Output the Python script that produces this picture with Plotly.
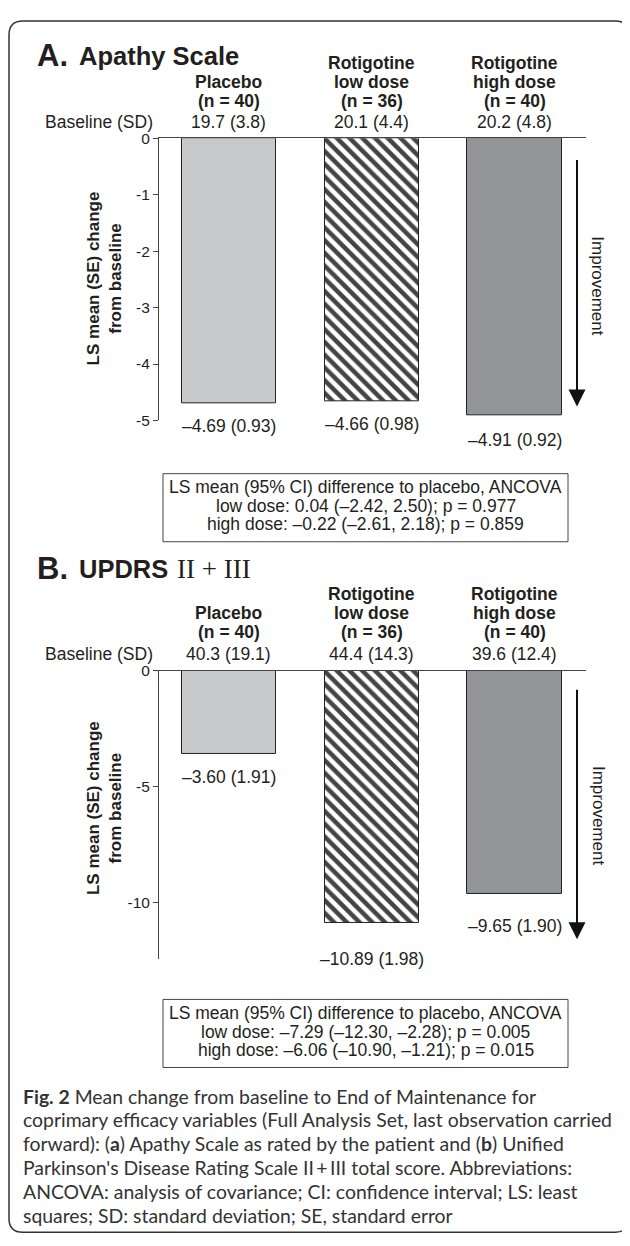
import plotly.graph_objects as go

W, H = 630, 1246

# ---------------- data ----------------
header_lines = [["Placebo"], ["Rotigotine", "low dose"], ["Rotigotine", "high dose"]]
n_patients = [40, 36, 40]

apathy_base_mean = [19.7, 20.1, 20.2]
apathy_base_sd = [3.8, 4.4, 4.8]
apathy_change = [-4.69, -4.66, -4.91]
apathy_se = [0.93, 0.98, 0.92]
apathy_ticks = [0, -1, -2, -3, -4, -5]
apathy_box = ["LS mean (95% CI) difference to placebo, ANCOVA",
              "low dose: 0.04 (\u20132.42, 2.50); p = 0.977",
              "high dose: \u20130.22 (\u20132.61, 2.18); p = 0.859"]

updrs_base_mean = [40.3, 44.4, 39.6]
updrs_base_sd = [19.1, 14.3, 12.4]
updrs_change = [-3.60, -10.89, -9.65]
updrs_se = [1.91, 1.98, 1.90]
updrs_ticks = [0, -5, -10]
updrs_box = ["LS mean (95% CI) difference to placebo, ANCOVA",
             "low dose: \u20137.29 (\u201312.30, \u20132.28); p = 0.005",
             "high dose: \u20136.06 (\u201310.90, \u20131.21); p = 0.015"]

caption_lines = [
    "<b>Fig. 2</b> Mean change from baseline to End of Maintenance for",
    "coprimary efficacy variables (Full Analysis Set, last observation carried",
    "forward): (<b>a</b>) Apathy Scale as rated by the patient and (<b>b</b>) Unified",
    "Parkinson's Disease Rating Scale II\u2009+\u2009III total score. Abbreviations:",
    "ANCOVA: analysis of covariance; CI: confidence interval; LS: least",
    "squares; SD: standard deviation; SE, standard error",
]

# ---------------- style / layout constants ----------------
SANS = "Liberation Sans, Arial, sans-serif"
SERIF = "Liberation Serif, Times New Roman, serif"
CAP = "Lato, Open Sans, sans-serif"
INK = "#231f20"
AX = "#444444"
bar_colors = ["#c8c9cb", "#ffffff", "#939598"]
bar_patterns = ["", "\\", ""]
OFF = 8  # page body margin


def px(x):
    return (x - OFF) / W


def py(y):
    return 1 - (y - OFF) / H


fig = go.Figure()
annotations = []
shapes = []

panels = [
    dict(key="", title="Apathy Scale", letter="A.", serif=None,
         base_mean=apathy_base_mean, base_sd=apathy_base_sd,
         change=apathy_change, se=apathy_se, ticks=apathy_ticks, box=apathy_box,
         title_y=47, lines_y=[55, 74, 93], base_y=114, top=131, bottom=417, yr=[-5, 0],
         label_off=[23, 23, 25], arrow=(155, 403), improve_y=280, ytitle_y=273,
         box_y=(471, 540), box_lines=[485, 504, 522]),
    dict(key="2", title="UPDRS", letter="B.", serif="II + III",
         base_mean=updrs_base_mean, base_sd=updrs_base_sd,
         change=updrs_change, se=updrs_se, ticks=updrs_ticks, box=updrs_box,
         title_y=567, lines_y=[593, 612, 631], base_y=654, top=671, bottom=963, yr=[-12.45, 0],
         label_off=[23, 36, 32], arrow=(692, 943), improve_y=817, ytitle_y=810,
         box_y=(1004, 1073), box_lines=[1018, 1037, 1055]),
]

layout_axes = {}
for p in panels:
    k = p["key"]
    xa = "x" + k
    ya = "y" + k
    fig.add_trace(go.Bar(
        x=[0, 1, 2], y=p["change"], width=0.66,
        xaxis=xa, yaxis=ya,
        marker=dict(color=bar_colors, line=dict(color="#222222", width=1),
                    pattern=dict(shape=bar_patterns, fgcolor="#000000", fgopacity=1,
                                 size=9, solidity=0.5)),
        hoverinfo="skip", showlegend=False,
    ))
    layout_axes["xaxis" + k] = dict(
        domain=[px(159), px(586)], range=[-0.49, 2.5], anchor=ya, side="top",
        showline=True, linecolor=AX, linewidth=1, ticks="", showticklabels=False,
        showgrid=False, zeroline=False, fixedrange=True)
    layout_axes["yaxis" + k] = dict(
        domain=[py(p["bottom"]), py(p["top"])], range=p["yr"], anchor=xa,
        tickvals=p["ticks"], ticktext=[str(t) for t in p["ticks"]],
        ticks="outside", ticklen=5, tickcolor=AX, showline=True, linecolor=AX,
        linewidth=1, showgrid=False, zeroline=False, fixedrange=True,
        tickfont=dict(family=SANS, size=15.5, color=INK))

    # panel title
    annotations.append(dict(xref="paper", yref="paper", x=px(35), y=py(p["title_y"]),
                            xanchor="left", yanchor="middle", showarrow=False,
                            text="<b>%s</b>" % p["letter"],
                            font=dict(family=SANS, size=31, color=INK)))
    annotations.append(dict(xref="paper", yref="paper", x=px(77), y=py(p["title_y"] + 1),
                            xanchor="left", yanchor="middle", showarrow=False,
                            text="<b>%s</b>" % p["title"],
                            font=dict(family=SANS, size=25.5, color=INK)))
    if p["serif"]:
        annotations.append(dict(xref="paper", yref="paper", x=px(175), y=py(p["title_y"] + 1),
                                xanchor="left", yanchor="middle", showarrow=False,
                                text=p["serif"],
                                font=dict(family=SERIF, size=27, color=INK)))

    # column headers
    for i in range(3):
        lines = header_lines[i] + ["(n = %d)" % n_patients[i]]
        ys = p["lines_y"][-len(lines):]
        for txt, yy in zip(lines, ys):
            annotations.append(dict(xref=xa, yref="paper", x=i, y=py(yy),
                                    xanchor="center", yanchor="middle", showarrow=False,
                                    text="<b>%s</b>" % txt,
                                    font=dict(family=SANS, size=17.5, color=INK)))
        annotations.append(dict(xref=xa, yref="paper", x=i, y=py(p["base_y"]),
                                xanchor="center", yanchor="middle", showarrow=False,
                                text="%.1f (%.1f)" % (p["base_mean"][i], p["base_sd"][i]),
                                font=dict(family=SANS, size=17.5, color=INK)))
        # value labels under bars
        annotations.append(dict(xref=xa, yref=ya, x=i, y=p["change"][i],
                                xanchor="center", yanchor="middle", showarrow=False,
                                yshift=-p["label_off"][i],
                                text="\u2013%.2f (%.2f)" % (abs(p["change"][i]), p["se"][i]),
                                font=dict(family=SANS, size=17.5, color=INK)))

    annotations.append(dict(xref="paper", yref="paper", x=px(155), y=py(p["base_y"]),
                            xanchor="right", yanchor="middle", showarrow=False,
                            text="Baseline (SD)",
                            font=dict(family=SANS, size=17.5, color=INK)))

    # y title
    annotations.append(dict(xref="paper", yref="paper", x=px(104), y=py(p["ytitle_y"]),
                            xanchor="center", yanchor="middle", showarrow=False,
                            textangle=-90,
                            text="<b>LS mean (SE) change<br>from baseline</b>",
                            font=dict(family=SANS, size=17, color=INK)))

    # improvement arrow
    a0, a1 = p["arrow"]
    annotations.append(dict(xref="paper", yref="paper", x=px(577), y=py(a1),
                            axref="pixel", ayref="pixel", ax=0, ay=-(a1 - a0),
                            showarrow=True, arrowhead=2, arrowsize=1.7, arrowwidth=2,
                            arrowcolor="#111111", text=""))
    annotations.append(dict(xref="paper", yref="paper", x=px(598), y=py(p["improve_y"]),
                            xanchor="center", yanchor="middle", showarrow=False,
                            textangle=90, text="Improvement",
                            font=dict(family=SANS, size=17, color=INK)))

    # stats box
    b0, b1 = p["box_y"]
    shapes.append(dict(type="rect", xref="paper", yref="paper",
                       x0=px(163), x1=px(568), y0=py(b1), y1=py(b0),
                       line=dict(color=AX, width=1), fillcolor="rgba(0,0,0,0)"))
    for txt, yy in zip(p["box"], p["box_lines"]):
        annotations.append(dict(xref="paper", yref="paper", x=px(365.5), y=py(yy),
                                xanchor="center", yanchor="middle", showarrow=False,
                                text=txt, font=dict(family=SANS, size=17.5, color=INK)))

# caption
for j, txt in enumerate(caption_lines):
    annotations.append(dict(xref="paper", yref="paper", x=px(21), y=py(1102 + 24.2 * j),
                            xanchor="left", yanchor="middle", showarrow=False,
                            text=txt, font=dict(family=CAP, size=19.4, color="#333333")))

# outer rounded frame
L, T, R, B, r = 9, 12, 629, 1240, 14
path = ("M %f,%f L %f,%f Q %f,%f %f,%f L %f,%f Q %f,%f %f,%f L %f,%f Q %f,%f %f,%f "
        "L %f,%f Q %f,%f %f,%f Z") % (
    px(L + r), py(T), px(R - r), py(T), px(R), py(T), px(R), py(T + r),
    px(R), py(B - r), px(R), py(B), px(R - r), py(B),
    px(L + r), py(B), px(L), py(B), px(L), py(B - r),
    px(L), py(T + r), px(L), py(T), px(L + r), py(T))
shapes.append(dict(type="path", xref="paper", yref="paper", path=path,
                   line=dict(color="#333333", width=1.5)))

fig.update_layout(
    width=W, height=H, margin=dict(l=0, r=0, t=0, b=0),
    paper_bgcolor="white", plot_bgcolor="white", showlegend=False,
    annotations=annotations, shapes=shapes, bargap=0, **layout_axes)

fig.write_html("out.html", config={"displayModeBar": False})
